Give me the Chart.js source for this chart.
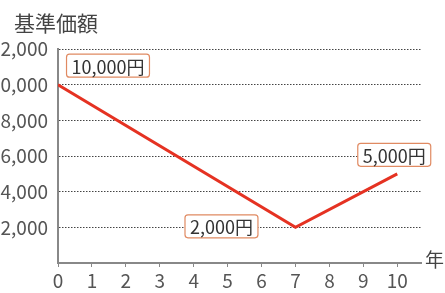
<!DOCTYPE html>
<html>
<head>
<meta charset="utf-8">
<script src="https://cdn.jsdelivr.net/npm/chart.js@4"></script>
<style>
  html, body { margin: 0; padding: 0; background: #fff; }
  #wrap { position: relative; width: 445px; height: 293px; }
</style>
</head>
<body>
<div id="wrap"><canvas id="chart"></canvas></div>
<script>
// data
var years = [0, 7, 10];
var values = [10000, 2000, 5000];
var pointLabels = ['10,000円', '2,000円', '5,000円'];
var xTicks = [0, 1, 2, 3, 4, 5, 6, 7, 8, 9, 10];
var yTicks = [2000, 4000, 6000, 8000, 10000, 12000];

var FONT = '"Noto Sans CJK JP", "Noto Sans", sans-serif';
var labelOffsets = [[50, -19], [-74, -1], [-3, -19]];

var annotate = {
    id: 'annotate',
    afterDatasetsDraw: function (chart) {
        var ctx = chart.ctx;
        var xs = chart.scales.x, ys = chart.scales.y;
        ctx.save();
        ctx.font = '18px ' + FONT;
        ctx.textAlign = 'center';
        ctx.textBaseline = 'middle';
        for (var i = 0; i < years.length; i++) {
            var px = xs.getPixelForValue(years[i]) + labelOffsets[i][0];
            var py = ys.getPixelForValue(values[i]) + labelOffsets[i][1];
            var w = ctx.measureText(pointLabels[i]).width + 10;
            var h = 23;
            ctx.beginPath();
            ctx.roundRect(px - w / 2, py - h / 2, w, h, 3);
            ctx.fillStyle = '#fff';
            ctx.fill();
            ctx.lineWidth = 1.2;
            ctx.strokeStyle = '#e08a62';
            ctx.stroke();
            ctx.fillStyle = '#333';
            ctx.fillText(pointLabels[i], px, py + 1);
        }
        // axis titles
        ctx.fillStyle = '#444';
        ctx.font = '21px ' + FONT;
        ctx.textAlign = 'left';
        ctx.fillText('基準価額', 14, 23);
        ctx.font = '19px ' + FONT;
        ctx.fillText('年', 425, 260);
        ctx.restore();
    }
};

var ctx = document.getElementById('chart').getContext('2d');
var chart = new Chart(ctx, {
    type: 'line',
    data: {
        datasets: [{
            data: years.map(function (x, i) { return { x: x, y: values[i] }; }),
            borderColor: '#e53222',
            borderWidth: 3,
            pointRadius: 0,
            tension: 0
        }]
    },
    options: {
        responsive: true,
        maintainAspectRatio: false,
        animation: false,
        layout: { padding: { top: 49, right: 24, left: 0, bottom: 0 } },
        plugins: { legend: { display: false }, tooltip: { enabled: false } },
        scales: {
            x: {
                type: 'linear',
                min: 0,
                max: 10.7,
                afterBuildTicks: function (s) { s.ticks = xTicks.map(function (v) { return { value: v }; }); },
                afterFit: function (s) { s.height = 30; },
                grid: { drawOnChartArea: false, tickLength: 4, color: '#888' },
                border: { color: '#888', width: 2 },
                ticks: { color: '#555', font: { family: FONT, size: 19 }, padding: 2, maxRotation: 0 }
            },
            y: {
                min: 0,
                max: 12000,
                afterBuildTicks: function (s) { s.ticks = yTicks.map(function (v) { return { value: v }; }); },
                afterFit: function (s) { s.width = 58; },
                grid: { drawTicks: false, color: '#444', lineWidth: 1 },
                border: { color: '#888', width: 2, dash: [1.5, 1.5] },
                ticks: {
                    color: '#555',
                    padding: 10,
                    font: { family: FONT, size: 19 },
                    callback: function (v) { return v.toLocaleString('en-US'); }
                }
            }
        }
    },
    plugins: [annotate]
});
</script>
</body>
</html>
